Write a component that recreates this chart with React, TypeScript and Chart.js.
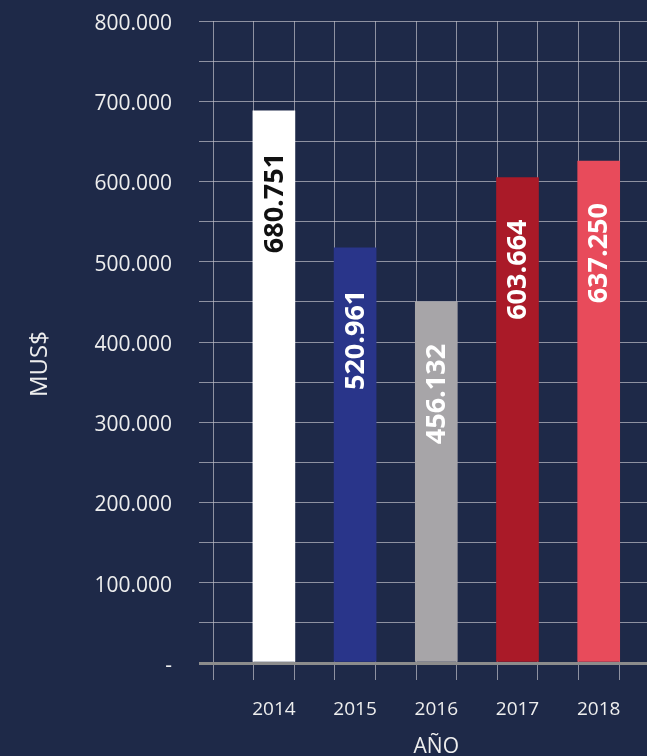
import React, { useEffect, useRef } from 'react';
import { Chart, registerables } from 'chart.js';

Chart.register(...registerables);

// ---- data ----
const years: string[] = ['2014', '2015', '2016', '2017', '2018'];
const barValues: number[] = [688000, 517500, 450000, 605000, 625500];
const valueLabels: string[] = ['680.751', '520.961', '456.132', '603.664', '637.250'];
const yTickLabels: string[] = ['-', '100.000', '200.000', '300.000', '400.000', '500.000', '600.000', '700.000', '800.000'];
const xTitle = 'AÑO';
const yTitle = 'MUS$';

// ---- styles ----
const BG = '#1e2948';
const GRID = 'rgba(190,190,200,0.7)';
const ZERO = '#8c8c8c';
const TEXT = '#eeeeee';
const FONT = '"Open Sans", "DejaVu Sans", sans-serif';
const barColors: string[] = ['#ffffff', '#29358a', '#a7a5a8', '#aa1a28', '#e84b5b'];
const labelColors: string[] = ['#111111', '#ffffff', '#ffffff', '#ffffff', '#ffffff'];

const isMajorX = (v: number) => Math.abs(v * 2 - Math.round(v * 2)) < 1e-6;

const yTitlePlugin = {
  id: 'yTitlePlugin',
  afterDraw(chart: any) {
    const { ctx, chartArea } = chart;
    ctx.save();
    ctx.translate(40, (chartArea.top + chartArea.bottom) / 2 + 22);
    ctx.rotate(-Math.PI / 2);
    ctx.font = `24px ${FONT}`;
    ctx.fillStyle = TEXT;
    ctx.textAlign = 'center';
    ctx.textBaseline = 'middle';
    ctx.fillText(yTitle, 0, 0);
    ctx.restore();
  },
};

const valueLabelPlugin = {
  id: 'valueLabelPlugin',
  afterDatasetsDraw(chart: any) {
    const { ctx } = chart;
    const meta = chart.getDatasetMeta(0);
    meta.data.forEach((bar: any, i: number) => {
      const { x, y } = bar.getProps(['x', 'y'], true);
      ctx.save();
      ctx.translate(x + 1, y + 42);
      ctx.rotate(-Math.PI / 2);
      ctx.font = `bold 27px ${FONT}`;
      ctx.fillStyle = labelColors[i];
      ctx.textAlign = 'right';
      ctx.textBaseline = 'middle';
      ctx.fillText(valueLabels[i], 0, 0);
      ctx.restore();
    });
  },
};

export default function App() {
  const canvasRef = useRef<HTMLCanvasElement | null>(null);

  useEffect(() => {
    document.body.style.margin = '0';
    document.body.style.background = BG;
    const canvas = canvasRef.current;
    if (!canvas) return;
    const data = years.map((_, i) => ({ x: i + 0.75, y: barValues[i] }));
    const chart = new Chart(canvas, {
      type: 'bar',
      data: {
        datasets: [
          {
            data: data as any,
            backgroundColor: barColors,
            borderWidth: 0,
            barThickness: 42,
          },
        ],
      },
      options: {
        responsive: false,
        animation: false,
        devicePixelRatio: 1,
        layout: { padding: { top: 21, right: 3.4, bottom: 0, left: 0 } },
        plugins: {
          legend: { display: false },
          tooltip: { enabled: false },
        },
        scales: {
          x: {
            type: 'linear',
            min: 0,
            max: 5.5,
            offset: false,
            afterBuildTicks: (s: any) => {
              const t: any[] = [];
              for (let k = 0; k <= 22; k++) t.push({ value: k * 0.25 });
              s.ticks = t;
            },
            afterFit: (s: any) => {
              s.height = 93;
              s.paddingLeft = 0;
              s.paddingRight = 0;
            },
            grid: {
              offset: false,
              drawTicks: true,
              tickLength: 17,
              lineWidth: 1,
              color: (c: any) => (c.tick && isMajorX(c.tick.value) ? GRID : 'rgba(0,0,0,0)'),
              tickColor: (c: any) => (c.tick && isMajorX(c.tick.value) ? GRID : 'rgba(0,0,0,0)'),
            },
            border: { display: false },
            ticks: {
              autoSkip: false,
              maxRotation: 0,
              minRotation: 0,
              padding: 18,
              color: TEXT,
              font: { family: FONT, size: 19 },
              callback: (v: any) => {
                const i = years.findIndex((_, k) => Math.abs(Number(v) - (k + 0.75)) < 1e-6);
                return i >= 0 ? years[i] : '';
              },
            },
            title: {
              display: true,
              text: xTitle,
              color: TEXT,
              font: { family: FONT, size: 21 },
              padding: { top: 0, bottom: -4 },
            },
          },
          y: {
            min: 0,
            max: 800000,
            afterBuildTicks: (s: any) => {
              const t: any[] = [];
              for (let k = 0; k <= 16; k++) t.push({ value: k * 50000 });
              s.ticks = t;
            },
            afterFit: (s: any) => {
              s.width = 213;
              s.paddingTop = 0;
              s.paddingBottom = 0;
            },
            grid: {
              drawTicks: true,
              tickLength: 14,
              color: (c: any) => (c.tick && c.tick.value === 0 ? ZERO : GRID),
              tickColor: (c: any) => (c.tick && c.tick.value === 0 ? ZERO : GRID),
              lineWidth: (c: any) => (c.tick && c.tick.value === 0 ? 3 : 1),
            },
            border: { display: false },
            ticks: {
              padding: 27,
              labelOffset: 3,
              color: TEXT,
              font: { family: FONT, size: 21 },
              callback: (v: any) => {
                const n = Number(v);
                return n % 100000 === 0 ? yTickLabels[n / 100000] : '';
              },
            },
          },
        },
      } as any,
      plugins: [yTitlePlugin, valueLabelPlugin],
    });
    return () => chart.destroy();
  }, []);

  return (
    <div
      style={{
        position: 'absolute',
        left: 0,
        top: 0,
        width: 647,
        height: 756,
        overflow: 'hidden',
        background: BG,
      }}
    >
      <canvas ref={canvasRef} width={663} height={756} style={{ display: 'block' }} />
    </div>
  );
}
